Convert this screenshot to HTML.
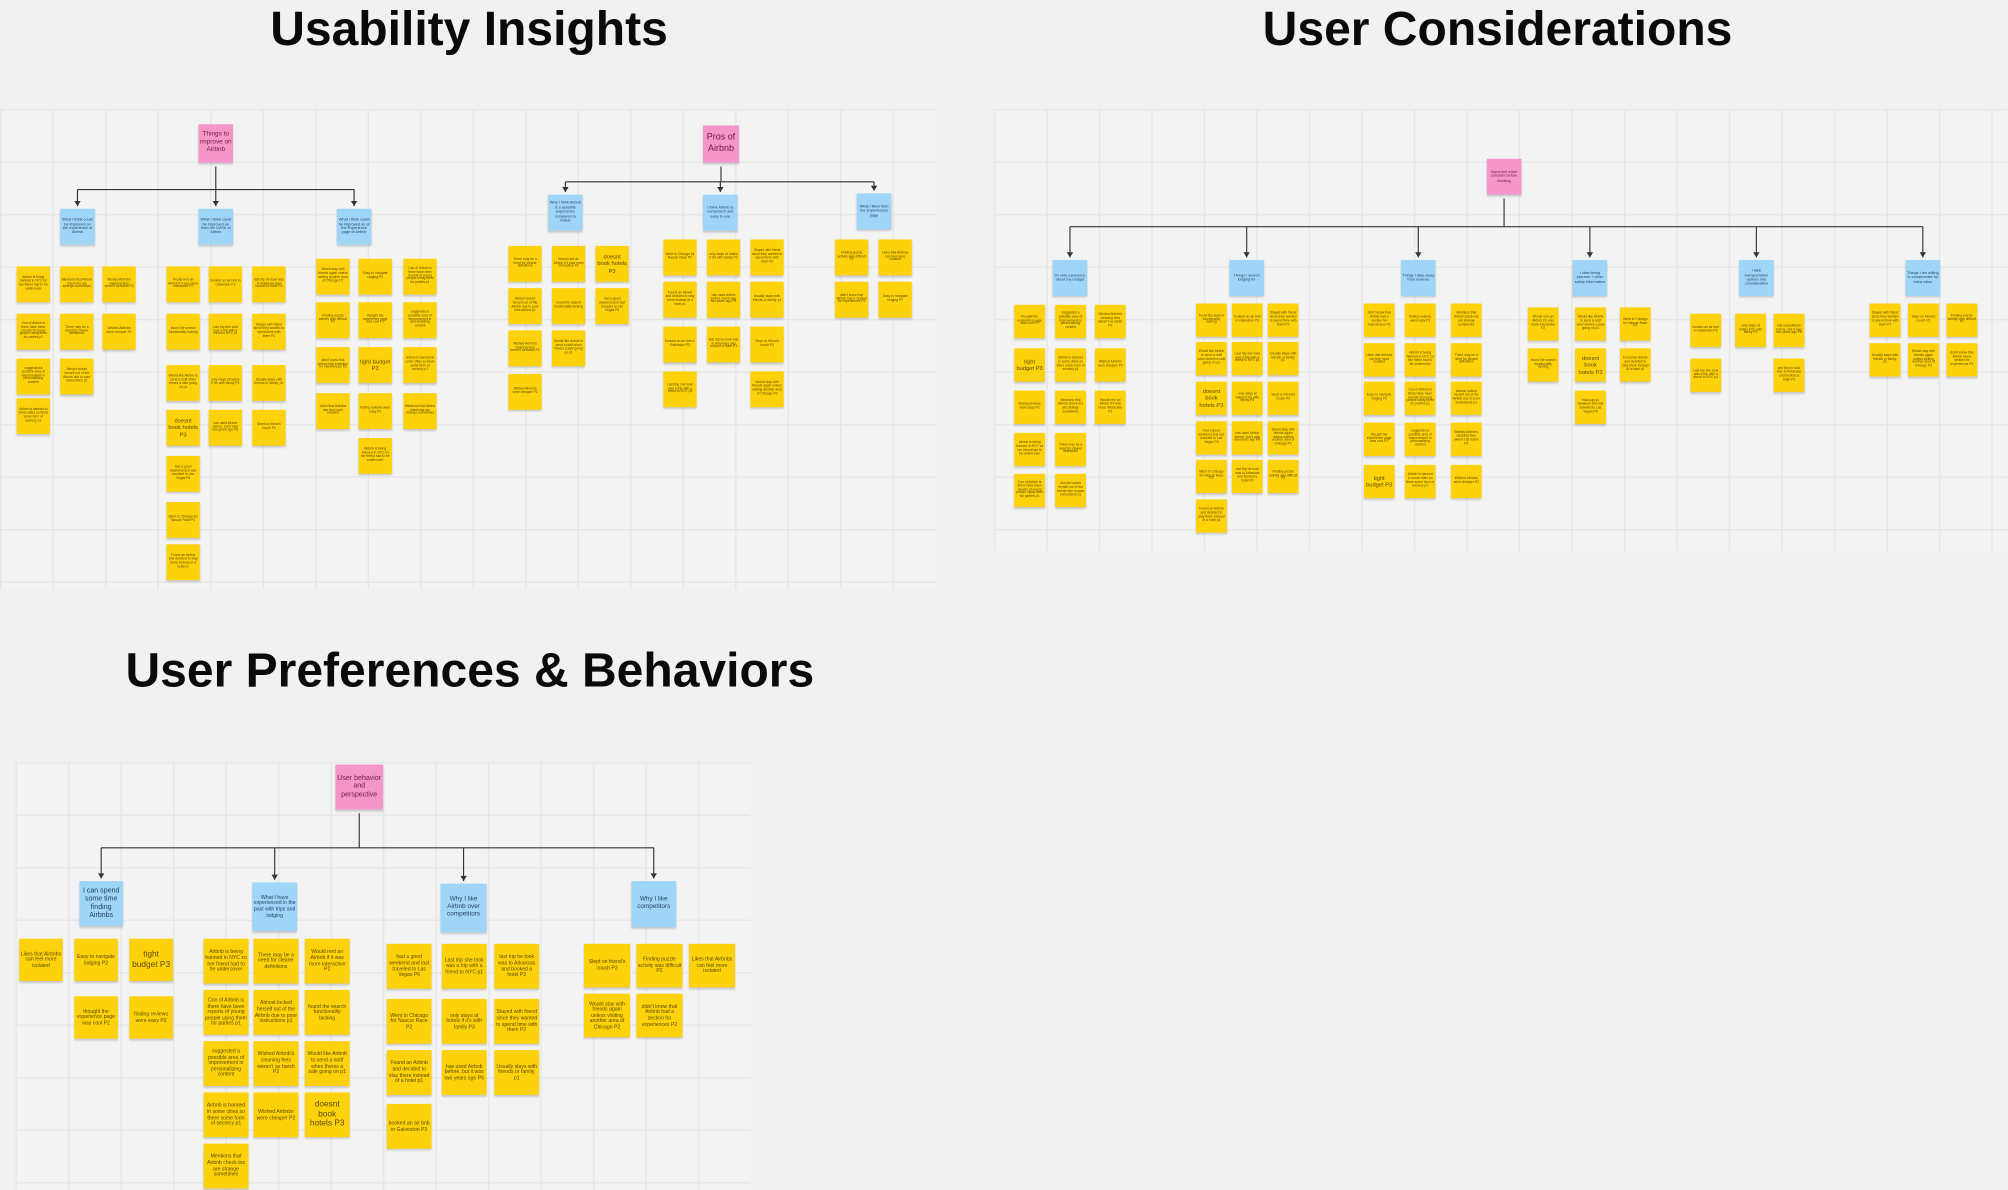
<!DOCTYPE html>
<html><head><meta charset="utf-8">
<style>
html,body{margin:0;padding:0;background:#f1f1f1;}
#root{position:relative;width:2008px;height:1190px;overflow:hidden;background:#f1f1f1;font-family:"Liberation Sans",sans-serif;}
#stage{position:absolute;left:0;top:0;width:1568px;height:929px;transform:scale(1.28061);transform-origin:0 0;}
.title{position:absolute;font-weight:bold;color:#0a0a0a;font-size:37.5px;white-space:nowrap;letter-spacing:0;}
.board{position:absolute;background-color:#f3f3f3;
background-image:linear-gradient(#e7e7e7 1px,transparent 1px),linear-gradient(90deg,#e7e7e7 1px,transparent 1px);
background-size:41px 41px;}
.note{position:absolute;box-sizing:border-box;display:flex;align-items:center;justify-content:center;text-align:center;overflow:hidden;line-height:1.15;color:#5a4a00;box-shadow:0 1.5px 1.5px rgba(0,0,0,0.18);padding:1px;}
.y{background:#fdd20b;}
.b{background:#9fd5f7;color:#1f3e5a;}
.p{background:#f596c8;color:#6a1c43;}
svg{position:absolute;left:0;top:0;}
</style></head>
<body>
<div id="root">
<div id="stage">
<div class="title" style="left:211px;top:1px;">Usability Insights</div>
<div class="title" style="left:986px;top:1px;">User Considerations</div>
<div class="title" style="left:98px;top:502px;">User Preferences &amp; Behaviors</div>
<div class="board" style="left:0;top:85px;width:732px;height:375px;"></div>
<div class="board" style="left:776px;top:85px;width:792px;height:345px;"></div>
<div class="board" style="left:12px;top:595px;width:574px;height:334px;"></div>
<svg id="lines" width="1568" height="929"></svg>
</div>
</div>
<script>
const stage=document.getElementById('stage');
const svg=document.getElementById('lines');
const NS='http://www.w3.org/2000/svg';

const parents=[
 {x:155,y:97,w:27,h:30,t:"Things to improve on Airbnb",fs:5},
 {x:549,y:98,w:28,h:29,t:"Pros of Airbnb",fs:7},
 {x:1161,y:124,w:27,h:28,t:"Important when consider before booking",fs:3},
 {x:262,y:597,w:37,h:35,t:"User behavior and perspective",fs:5.5}
];
const branchY=[148,142,177,662];
const children=[
 [{x:47,y:163,t:"What I think could be improved on the experience of Airbnb"},{x:155,y:163,t:"What I think could be improved on from the UX/UI of Airbnb"},{x:263,y:163,t:"What I think could be improved on of the Experience page of Airbnb"}],
 [{x:428,y:152,t:"Why I think Airbnb is a sensible experience compared to hotels"},{x:549,y:152,t:"I think Airbnb is convenient and easy to use"},{x:669,y:151,t:"What I liked from the Experiences page"}],
 [{x:822,y:203,t:"Im very conscious about my budget"},{x:960,y:203,t:"Things I search lodging for"},{x:1094,y:203,t:"Things I take away from reviews"},{x:1228,y:203,t:"I view being pictures + other safety information"},{x:1358,y:203,t:"I take transportation options into consideration"},{x:1488,y:203,t:"Things I am willing to compromise for extra value"}],
 [{x:62,y:688,t:"I can spend some time finding Airbnbs",w:34,h:35,fs:5.5},{x:197,y:689,t:"What I have experienced in the past with trips and lodging",w:35,h:38,fs:4},{x:344,y:690,t:"Why I like Airbnb over competitors",w:36,h:38,fs:5},{x:493,y:688,t:"Why I like competitors",w:35,h:36,fs:5}]
];

const groupCols=[
 [13,47,80],[130,163,197],[247,280,315],
 [397,431,465],[518,552,586],[652,686],
 [792,824,855],[934,962,990],[1065,1097,1133],[1193,1230,1265],[1320,1355,1385],[1460,1490,1520],
 [15,58,101],[159,198,238],[302,345,386],[456,497,538]
];
const groupRows=[
 [208,245,280,311],[208,245,285,320,356,392,425],[202,236,271,307,342],
 [192,225,258,292],[187,220,255,290],[187,220],
 [238,272,305,338,370],[237,267,298,329,359,390],[237,268,298,330,363],[240,272,305],[245,280],[237,268],
 [733,778],[733,773,813,853,893],[737,780,820,862],[737,776]
];
const groupCounts=[
 [4,3,2],[7,4,4],[4,5,4],
 [4,3,2],[4,3,4],[2,2],
 [5,5,3],[6,5,5],[5,5,5],[2,3,2],[2,1,2],[2,2,2],
 [1,2,2],[5,4,4],[4,3,3],[2,2,1]
];
const groupSize=[
 [26,28],[26,28],[26,28],
 [26,28],[26,28],[26,28],
 [24,26],[24,26],[24,26],[24,26],[24,26],[24,26],
 [34,33],[35,35],[35,35],[36,34]
];
const sampleTexts=[
 "Airbnb is being banned in NYC so her friend had to be undercover","Con of Airbnb is there have been reports of young people using them for parties p1","suggested a possible area of improvement in personalizing content",
 "Airbnb is banned in some cities so there some form of secrecy p1","Mentions that Airbnb check-ins are strange sometimes","There may be a need for clearer definitions",
 "Almost locked herself out of the Airbnb due to poor instructions p1","Wished Airbnb's cleaning fees weren't as harsh P2","Wished Airbnbs were cheaper P2",
 "Would rent an Airbnb if it was more interactive P2","found the search functionality lacking","Would like Airbnb to send a notif when theres a sale going on p1",
 "doesnt book hotels P3","had a good weekend and last traveled to Las Vegas P6","Went to Chicago for Nascar Race P2",
 "Found an Airbnb and decided to stay there instead of a hotel p1","booked an air bnb in Galveston P3","Last trip she took was a trip with a friend to NYC p1",
 "only stays at hotels if it's with family P3","has used Airbnb before, but it was two years ago P6","last trip he took was to Arkansas and booked a hotel P3",
 "Stayed with friend since they wanted to spend time with them P2","Usually stays with friends or family, p1","Slept on friend's couch P2",
 "Would stay with friends again unless visiting another area of Chicago P2","Finding puzzle activity was difficult P2","didn't know that Airbnb had a section for experiences P2",
 "Likes that Airbnbs can feel more isolated","Easy to navigate lodging P2","thought the experience page was cool P2","tight budget P3","finding reviews were easy P2"
];
let ti=0;

function addNote(cls,x,y,w,h,text,fs,name){
 const d=document.createElement('div');
 d.className='note '+cls;
 d.style.left=x+'px';d.style.top=y+'px';d.style.width=w+'px';d.style.height=h+'px';
 d.style.fontSize=fs+'px';
 d.textContent=text;
 
 
 stage.appendChild(d);
 return d;
}
function line(x1,y1,x2,y2,arrow){
 const l=document.createElementNS(NS,'line');
 l.setAttribute('x1',x1);l.setAttribute('y1',y1);l.setAttribute('x2',x2);l.setAttribute('y2',y2);
 l.setAttribute('stroke','#333');l.setAttribute('stroke-width','0.9');
 
 
 svg.appendChild(l);
 if(arrow){
  const p=document.createElementNS(NS,'path');
  p.setAttribute('d','M'+(x2-2.5)+' '+(y2-4)+' L'+x2+' '+y2+' L'+(x2+2.5)+' '+(y2-4)+' Z');
  p.setAttribute('fill','#333');
  
  
  svg.appendChild(p);
 }
}

parents.forEach((p,i)=>{
 addNote('p',p.x,p.y,p.w,p.h,p.t,p.fs,'parent-topic-note');
 const cx=p.x+p.w/2, by=branchY[i];
 line(cx,p.y+p.h+3,cx,by,false);
 const ch=children[i];
 const xs=ch.map(c=>c.x+(c.w||27)/2);
 line(Math.min(...xs),by,Math.max(...xs),by,false);
 ch.forEach(c=>{
  const w=c.w||27,h=c.h||28;
  line(c.x+w/2,by,c.x+w/2,c.y-2,true);
  addNote('b',c.x,c.y,w,h,c.t,c.fs||3,'category-note');
 });
});

groupCols.forEach((cols,g)=>{
 const [w,h]=groupSize[g];
 cols.forEach((cx,ci)=>{
  const n=groupCounts[g][ci];
  for(let r=0;r<n;r++){
   const ry=groupRows[g][r];
   const txt=sampleTexts[ti%sampleTexts.length];ti++;
   const fs=(w>30)?(txt.length<22?6.5:4):(txt.length<22?4.5:2.6);
   addNote('y',cx,ry,w,h,txt,fs,'insight-sticky-note');
  }
 });
});
</script>
</body></html>
